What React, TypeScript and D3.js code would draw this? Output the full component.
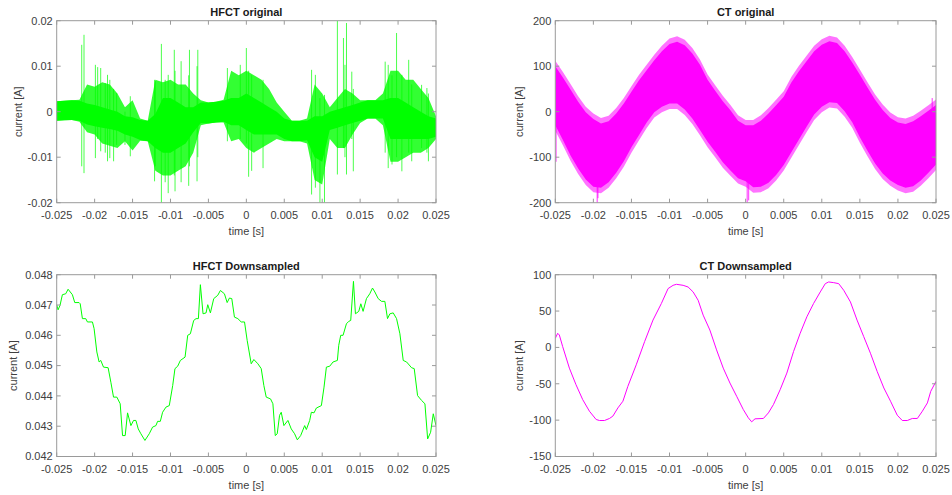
import React, { useEffect } from 'react';
import * as d3 from 'd3';

// ---------- tick values ----------
const xTicks = [-0.025, -0.02, -0.015, -0.01, -0.005, 0, 0.005, 0.01, 0.015, 0.02, 0.025];
const hfctOrigYTicks = [-0.02, -0.01, 0, 0.01, 0.02];
const ctOrigYTicks = [-200, -100, 0, 100, 200];
const hfctDsYTicks = [0.042, 0.043, 0.044, 0.045, 0.046, 0.047, 0.048];
const ctDsYTicks = [-150, -100, -50, 0, 50, 100];

// ---------- HFCT original (envelopes in mA, 1 ms grid) ----------
const envT = [
  -0.025, -0.024, -0.023, -0.022, -0.021, -0.02, -0.019, -0.018, -0.017, -0.016, -0.015,
  -0.014, -0.013, -0.012, -0.011, -0.01, -0.009, -0.008, -0.007, -0.006, -0.005,
  -0.004, -0.003, -0.002, -0.001, 0, 0.001, 0.002, 0.003, 0.004, 0.005,
  0.006, 0.007, 0.008, 0.009, 0.01, 0.011, 0.012, 0.013, 0.014, 0.015,
  0.016, 0.017, 0.018, 0.019, 0.02, 0.021, 0.022, 0.023, 0.024, 0.025,
];
const hfctCoreHi = [
  2.3, 2.4, 2.5, 2.4, 1.8, 1.5, 1.0, 0.5, 0.0, -1.0, -1.2,
  -1.8, -2.0, -0.5, 3.0, 3.0, 2.0, 1.0, 1.0, 2.0, 2.0,
  2.2, 2.4, 3.0, 3.0, 4.0, 3.0, 2.0, 1.0, 0.0, -1.5,
  -2.0, -2.0, -2.0, -1.0, -1.0, 0.0, 0.5, 1.0, 1.5, 2.0,
  2.5, 2.5, 2.5, 3.0, 3.0, 2.0, 1.0, 0.0, -1.0, -1.5,
];
const hfctCoreLo = [
  -2.0, -1.9, -1.8, -2.0, -2.8, -3.2, -3.5, -3.8, -4.2, -5.0, -5.5,
  -6.2, -6.5, -8.0, -9.0, -9.0, -8.0, -7.0, -4.5, -2.5, -2.6,
  -2.4, -2.2, -3.0, -3.0, -4.0, -5.0, -5.0, -5.0, -5.0, -6.0,
  -6.5, -6.5, -6.3, -10.0, -11.0, -4.0, -3.5, -3.0, -2.5, -2.0,
  -1.5, -1.5, -1.5, -6.0, -6.0, -6.0, -6.0, -6.0, -6.0, -5.5,
];
const hfctBurstHi = [
  2.3, 2.4, 2.5, 2.6, 6.0, 5.5, 6.5, 6.0, 4.0, 1.0, 2.5,
  -1.5, -2.0, 7.0, 6.5, 7.0, 6.0, 6.0, 4.0, 2.5, 2.0,
  2.2, 2.6, 9.0, 8.0, 9.0, 8.0, 7.0, 5.0, 2.0, 0.0,
  -2.0, -2.0, -1.5, 6.0, 4.0, 1.0, 3.0, 5.0, 4.0, 2.5,
  2.5, 2.5, 4.0, 9.0, 9.0, 7.0, 7.0, 5.0, 3.0, -1.0,
];
const hfctBurstLo = [
  -2.0, -1.9, -1.8, -2.2, -4.5, -5.0, -7.0, -7.5, -8.0, -6.5, -8.5,
  -6.4, -6.5, -13.0, -14.0, -14.0, -13.0, -12.0, -9.0, -3.0, -2.6,
  -2.4, -2.4, -6.5, -6.0, -8.0, -9.0, -8.0, -7.0, -6.0, -6.5,
  -6.5, -6.5, -7.0, -15.0, -16.0, -6.0, -8.0, -8.0, -5.0, -2.5,
  -1.5, -1.5, -3.0, -11.0, -11.0, -10.0, -9.0, -9.0, -8.0, -6.0,
];
// individual spikes: [time s, max mA, min mA]
const hfctSpikes: [number, number, number][] = [
  [-0.0217, 14.7, -12.0], [-0.0214, 16.9, -13.5], [-0.0199, 10.3, -10.2], [-0.0196, 9.8, -6.0],
  [-0.0192, 9.6, -8.7], [-0.0186, 6.3, -9.0], [-0.0183, 8.1, -10.9], [-0.018, 7.0, -10.2],
  [-0.0175, 5.0, -10.9], [-0.0171, 4.1, -7.3], [-0.016, 0.0, -7.3], [-0.0153, 3.4, -9.8],
  [-0.0121, 7.0, -15.3], [-0.012, 6.7, -12.0], [-0.0112, 14.9, -20.0], [-0.0107, 7.0, -15.5],
  [-0.0103, 8.1, -17.9], [-0.0095, 13.6, -14.0], [-0.0094, 9.0, -17.5], [-0.0086, 11.1, -15.5],
  [-0.0076, 8.0, -16.3], [-0.0075, 13.6, -12.0], [-0.0065, 10.0, -15.3], [-0.0064, 13.6, -10.0],
  [-0.0025, 9.6, -6.5], [-0.0008, 10.3, -6.0], [0.0, 14.0, -7.0], [0.0003, 9.0, -14.3],
  [0.0007, 8.0, -13.0], [0.0022, 7.0, -12.4], [0.0086, 9.2, -18.2], [0.0091, 8.1, -16.7],
  [0.0097, 3.0, -20.0], [0.0103, 3.7, -20.0], [0.012, 20.0, -13.8], [0.0128, 16.2, -8.0],
  [0.013, 10.3, -10.0], [0.0132, 19.5, -13.8], [0.0139, 8.8, -6.0], [0.0141, 5.0, -13.1],
  [0.0183, 11.0, -9.0], [0.0187, 10.3, -12.4], [0.0192, 8.0, -11.6], [0.0198, 17.3, -10.0],
  [0.0205, 8.1, -13.1], [0.0214, 11.4, -9.0], [0.0218, 6.0, -10.9], [0.0231, 5.9, -8.0],
  [0.0238, 5.2, -9.0], [0.024, 4.0, -10.9],
];

// ---------- CT original (band edges in A, 1 ms grid) ----------
const ctUpper = [
  100, 75, 49, 22, -1, -16, -26, -21, -4, 18, 44, 69, 91, 113, 133, 149, 154, 146, 128, 103, 70, 46, 23, 3, -20,
  -30, -30, -20, -4, 14, 33, 64, 89, 111, 133, 147, 155, 151, 133, 108, 81, 53, 26, 4, -14, -24, -27, -21, -10, 2, 15,
];
const ctLower = [
  -30, -62, -96, -125, -149, -165, -167, -155, -134, -109, -78, -51, -24, -1, 11, 18, 18, 5, -15, -40, -66, -88, -111, -129, -146,
  -153, -166, -165, -156, -139, -117, -89, -61, -33, -6, 11, 21, 19, 1, -23, -56, -86, -114, -136, -151, -161, -167, -164, -151, -134, -116,
];
const ctNoise = 12;
const ctSpikes: [number, number, number][] = [
  [-0.0249, -30, -110], [-0.0195, -150, -200], [-0.0194, -140, -190], [0.0002, -150, -200], [0.0004, -140, -195],
  [0.0245, 30, -60],
];

// ---------- HFCT downsampled ----------
const hfctDsT = [
  -0.025, -0.02482, -0.02456, -0.02425, -0.02381, -0.0235, -0.02293, -0.02262, -0.02205, -0.0219,
  -0.02161, -0.02117, -0.02095, -0.02029, -0.02007, -0.01971, -0.01941, -0.01919, -0.01883, -0.01822,
  -0.01786, -0.01751, -0.01707, -0.01663, -0.01632, -0.01597, -0.01566, -0.01522, -0.01487, -0.01456,
  -0.01425, -0.0139, -0.01337, -0.0128, -0.01236, -0.01192, -0.0117, -0.01134, -0.01104, -0.0106,
  -0.01016, -0.00971, -0.00941, -0.00905, -0.0087, -0.00808, -0.00773, -0.00738, -0.00694, -0.00663,
  -0.00632, -0.00606, -0.00571, -0.00531, -0.00509, -0.00474, -0.0043, -0.00377, -0.00342, -0.00289,
  -0.00253, -0.00223, -0.00192, -0.00157, -0.00112, -0.00068, -0.00024, 0.00011, 0.00064, 0.00099,
  0.00152, 0.00196, 0.00231, 0.00262, 0.00319, 0.0035, 0.00381, 0.00407, 0.00438, 0.0046,
  0.00495, 0.00548, 0.00592, 0.00636, 0.00672, 0.00716, 0.00769, 0.00791, 0.00835, 0.00857,
  0.00892, 0.00923, 0.00989, 0.01024, 0.01055, 0.01099, 0.01143, 0.012, 0.01218, 0.01244,
  0.01275, 0.01319, 0.0135, 0.01376, 0.01412, 0.01438, 0.01482, 0.01509, 0.01539, 0.01583,
  0.01627, 0.01663, 0.01694, 0.01738, 0.01782, 0.01826, 0.01861, 0.01892, 0.01936, 0.0198,
  0.02024, 0.02068, 0.02112, 0.02178, 0.02213, 0.02257, 0.0231, 0.02354, 0.0239, 0.02429,
  0.02464, 0.025,
];
const hfctDsV = [
  0.04701, 0.04684, 0.04699, 0.04734, 0.04737, 0.04752, 0.04734, 0.04708, 0.04708, 0.04704,
  0.04655, 0.04655, 0.04644, 0.04644, 0.04622, 0.04545, 0.04512, 0.04517, 0.04495, 0.04493,
  0.04445, 0.04396, 0.04396, 0.04374, 0.04269, 0.04269, 0.04344, 0.04302, 0.04319, 0.04319,
  0.04291, 0.04275, 0.04253, 0.04275, 0.04297, 0.04302, 0.04316, 0.04316, 0.04346, 0.04363,
  0.04368, 0.04434, 0.0449, 0.04498, 0.04517, 0.04528, 0.046, 0.04605, 0.04649, 0.04655,
  0.04655, 0.04767, 0.04671, 0.04674, 0.04701, 0.04674, 0.04721, 0.04732, 0.04748, 0.04737,
  0.04708, 0.04723, 0.04721, 0.0466, 0.04655, 0.04644, 0.04644, 0.04583, 0.04506, 0.0452,
  0.04506, 0.0449, 0.04434, 0.04396, 0.0439, 0.04374, 0.04269, 0.04275, 0.04336, 0.04346,
  0.04302, 0.04319, 0.04291, 0.04275, 0.04255, 0.04269, 0.04302, 0.04289, 0.04319, 0.04346,
  0.04344, 0.0436, 0.04368, 0.04429, 0.04495, 0.04498, 0.04512, 0.04517, 0.04567, 0.046,
  0.046, 0.04638, 0.04646, 0.04649, 0.04778, 0.04671, 0.04679, 0.04704, 0.04679, 0.04721,
  0.04737, 0.04756, 0.04743, 0.04721, 0.04712, 0.04712, 0.04655, 0.04671, 0.04674, 0.04655,
  0.04605, 0.04517, 0.04512, 0.04493, 0.0449, 0.04401, 0.04385, 0.04374, 0.04258, 0.0428,
  0.04341, 0.04302,
];

// ---------- CT downsampled ----------
const ctDsT = [
  -0.025, -0.02469, -0.02447, -0.02403, -0.02315, -0.02228, -0.0214, -0.02052, -0.01964, -0.0192,
  -0.01854, -0.01788, -0.01744, -0.01678, -0.01612, -0.01547, -0.01437, -0.01327, -0.01217, -0.01107,
  -0.01019, -0.00953, -0.00909, -0.00821, -0.00756, -0.0069, -0.00624, -0.00558, -0.0047, -0.00382,
  -0.00294, -0.00206, -0.00118, -0.00031, 0.00035, 0.00079, 0.00123, 0.00233, 0.00299, 0.00365,
  0.00453, 0.00541, 0.00629, 0.00716, 0.00804, 0.00892, 0.0098, 0.01046, 0.0109, 0.01156,
  0.01222, 0.01288, 0.01376, 0.01463, 0.01551, 0.01639, 0.01727, 0.01815, 0.01903, 0.01991,
  0.02057, 0.02123, 0.02189, 0.02255, 0.02321, 0.02387, 0.02431, 0.025,
];
const ctDsV = [
  12.5, 19.4, 17.1, 1.1, -28.5, -51.3, -71.8, -87.7, -99.1, -100.5,
  -100.5, -97.7, -94.5, -83.2, -74.0, -53.5, -23.9, 8.0, 37.6, 60.4,
  80.9, 85.4, 86.8, 85.4, 83.1, 76.3, 64.9, 44.4, 23.9, -3.4,
  -28.5, -49.0, -67.2, -85.4, -96.8, -102.3, -98.2, -97.7, -90.0, -78.6,
  -58.1, -35.3, -5.7, 19.4, 42.1, 60.4, 76.3, 87.7, 90.0, 89.1,
  87.7, 78.6, 62.6, 37.6, 14.8, -8.0, -33.0, -55.8, -74.0, -93.2,
  -100.5, -100.5, -97.7, -97.7, -87.7, -76.3, -60.4, -46.7,
];

const FONT = '"Liberation Sans", Arial, Helvetica, sans-serif';
const GREEN = '#00ff00';
const MAGENTA = '#ff00ff';
const fmt = (v: number) => String(+v.toFixed(4));

type Box = { x0: number; x1: number; y0: number; y1: number };

function Axes(props: {
  id: string;
  box: Box;
  yDomain: [number, number];
  yTicks: number[];
  title: string;
  ylabelX: number;
  children: (x: d3.ScaleLinear<number, number>, y: d3.ScaleLinear<number, number>) => React.ReactNode;
}) {
  const { box, yDomain, yTicks, title, ylabelX, id } = props;
  const x = d3.scaleLinear().domain([-0.025, 0.025]).range([box.x0, box.x1]);
  const y = d3.scaleLinear().domain(yDomain).range([box.y1, box.y0]);
  const tl = 4;
  const axisColor = '#9a9a9a';
  const textColor = '#404040';
  return (
    <g>
      <defs>
        <clipPath id={id}>
          <rect x={box.x0} y={box.y0} width={box.x1 - box.x0} height={box.y1 - box.y0} />
        </clipPath>
      </defs>
      <g clipPath={`url(#${id})`}>{props.children(x, y)}</g>
      <rect x={box.x0} y={box.y0} width={box.x1 - box.x0} height={box.y1 - box.y0} fill="none" stroke={axisColor} strokeWidth={1} />
      {xTicks.map((t) => (
        <g key={'xt' + t}>
          <line x1={x(t)} x2={x(t)} y1={box.y1} y2={box.y1 - tl} stroke={axisColor} />
          <line x1={x(t)} x2={x(t)} y1={box.y0} y2={box.y0 + tl} stroke={axisColor} />
          <text x={x(t)} y={box.y1 + 16} textAnchor="middle" fontSize={11} fill={textColor} fontFamily={FONT}>
            {fmt(t)}
          </text>
        </g>
      ))}
      {yTicks.map((t) => (
        <g key={'yt' + t}>
          <line x1={box.x0} x2={box.x0 + tl} y1={y(t)} y2={y(t)} stroke={axisColor} />
          <line x1={box.x1} x2={box.x1 - tl} y1={y(t)} y2={y(t)} stroke={axisColor} />
          <text x={box.x0 - 4} y={y(t)} dy="0.35em" textAnchor="end" fontSize={11} fill={textColor} fontFamily={FONT}>
            {fmt(t)}
          </text>
        </g>
      ))}
      <text x={(box.x0 + box.x1) / 2} y={box.y1 + 32} textAnchor="middle" fontSize={11} fill={textColor} fontFamily={FONT}>
        time [s]
      </text>
      <text
        transform={`translate(${ylabelX},${(box.y0 + box.y1) / 2}) rotate(-90)`}
        dy="0.35em"
        textAnchor="middle"
        fontSize={11}
        fill={textColor}
        fontFamily={FONT}
      >
        current [A]
      </text>
      <text x={(box.x0 + box.x1) / 2} y={box.y0 - 5} textAnchor="middle" fontSize={11} fontWeight="bold" fill="#1a1a1a" fontFamily={FONT}>
        {title}
      </text>
    </g>
  );
}

export default function App() {
  useEffect(() => {
    document.body.style.margin = '0';
  }, []);

  const idx = envT.map((_, i) => i);

  return (
    <svg width={952} height={495} style={{ position: 'absolute', left: 0, top: 0, background: '#fff' }}>
      <rect width={952} height={495} fill="#fff" />
      {/* HFCT original */}
      <Axes id="c1" box={{ x0: 56.7, x1: 436, y0: 20.7, y1: 202.7 }} yDomain={[-0.02, 0.02]} yTicks={hfctOrigYTicks} title="HFCT original" ylabelX={18}>
        {(x, y) => {
          const burst = d3.area<number>().x((i) => x(envT[i])).y0((i) => y(hfctBurstLo[i] / 1000)).y1((i) => y(hfctBurstHi[i] / 1000));
          const core = d3.area<number>().x((i) => x(envT[i])).y0((i) => y(hfctCoreLo[i] / 1000)).y1((i) => y(hfctCoreHi[i] / 1000));
          return (
            <g>
              <path d={burst(idx) || ''} fill={GREEN} opacity={0.8} />
              <path d={core(idx) || ''} fill={GREEN} />
              {hfctSpikes.map(([t, hi, lo], k) => (
                <line key={k} x1={x(t)} x2={x(t)} y1={y(hi / 1000)} y2={y(lo / 1000)} stroke={GREEN} strokeWidth={1} opacity={0.7} />
              ))}
            </g>
          );
        }}
      </Axes>
      {/* CT original */}
      <Axes id="c2" box={{ x0: 555.3, x1: 936, y0: 20.7, y1: 202.7 }} yDomain={[-200, 200]} yTicks={ctOrigYTicks} title="CT original" ylabelX={519}>
        {(x, y) => {
          const outer = d3.area<number>().x((i) => x(envT[i])).y0((i) => y(ctLower[i] - ctNoise)).y1((i) => y(ctUpper[i] + ctNoise));
          const band = d3.area<number>().x((i) => x(envT[i])).y0((i) => y(ctLower[i])).y1((i) => y(ctUpper[i]));
          return (
            <g>
              <path d={outer(idx) || ''} fill={MAGENTA} opacity={0.55} />
              <path d={band(idx) || ''} fill={MAGENTA} />
              {ctSpikes.map(([t, hi, lo], k) => (
                <line key={k} x1={x(t)} x2={x(t)} y1={y(hi)} y2={y(lo)} stroke={MAGENTA} strokeWidth={1} opacity={0.8} />
              ))}
            </g>
          );
        }}
      </Axes>
      {/* HFCT downsampled */}
      <Axes id="c3" box={{ x0: 56.7, x1: 436, y0: 274.7, y1: 456.5 }} yDomain={[0.042, 0.048]} yTicks={hfctDsYTicks} title="HFCT Downsampled" ylabelX={13}>
        {(x, y) => {
          const line = d3.line<number>().x((i) => x(hfctDsT[i])).y((i) => y(hfctDsV[i]));
          return <path d={line(hfctDsT.map((_, i) => i)) || ''} fill="none" stroke={GREEN} strokeWidth={1} />;
        }}
      </Axes>
      {/* CT downsampled */}
      <Axes id="c4" box={{ x0: 555.3, x1: 936, y0: 274.7, y1: 456.5 }} yDomain={[-150, 100]} yTicks={ctDsYTicks} title="CT Downsampled" ylabelX={519}>
        {(x, y) => {
          const line = d3.line<number>().x((i) => x(ctDsT[i])).y((i) => y(ctDsV[i]));
          return <path d={line(ctDsT.map((_, i) => i)) || ''} fill="none" stroke={MAGENTA} strokeWidth={1} />;
        }}
      </Axes>
    </svg>
  );
}
